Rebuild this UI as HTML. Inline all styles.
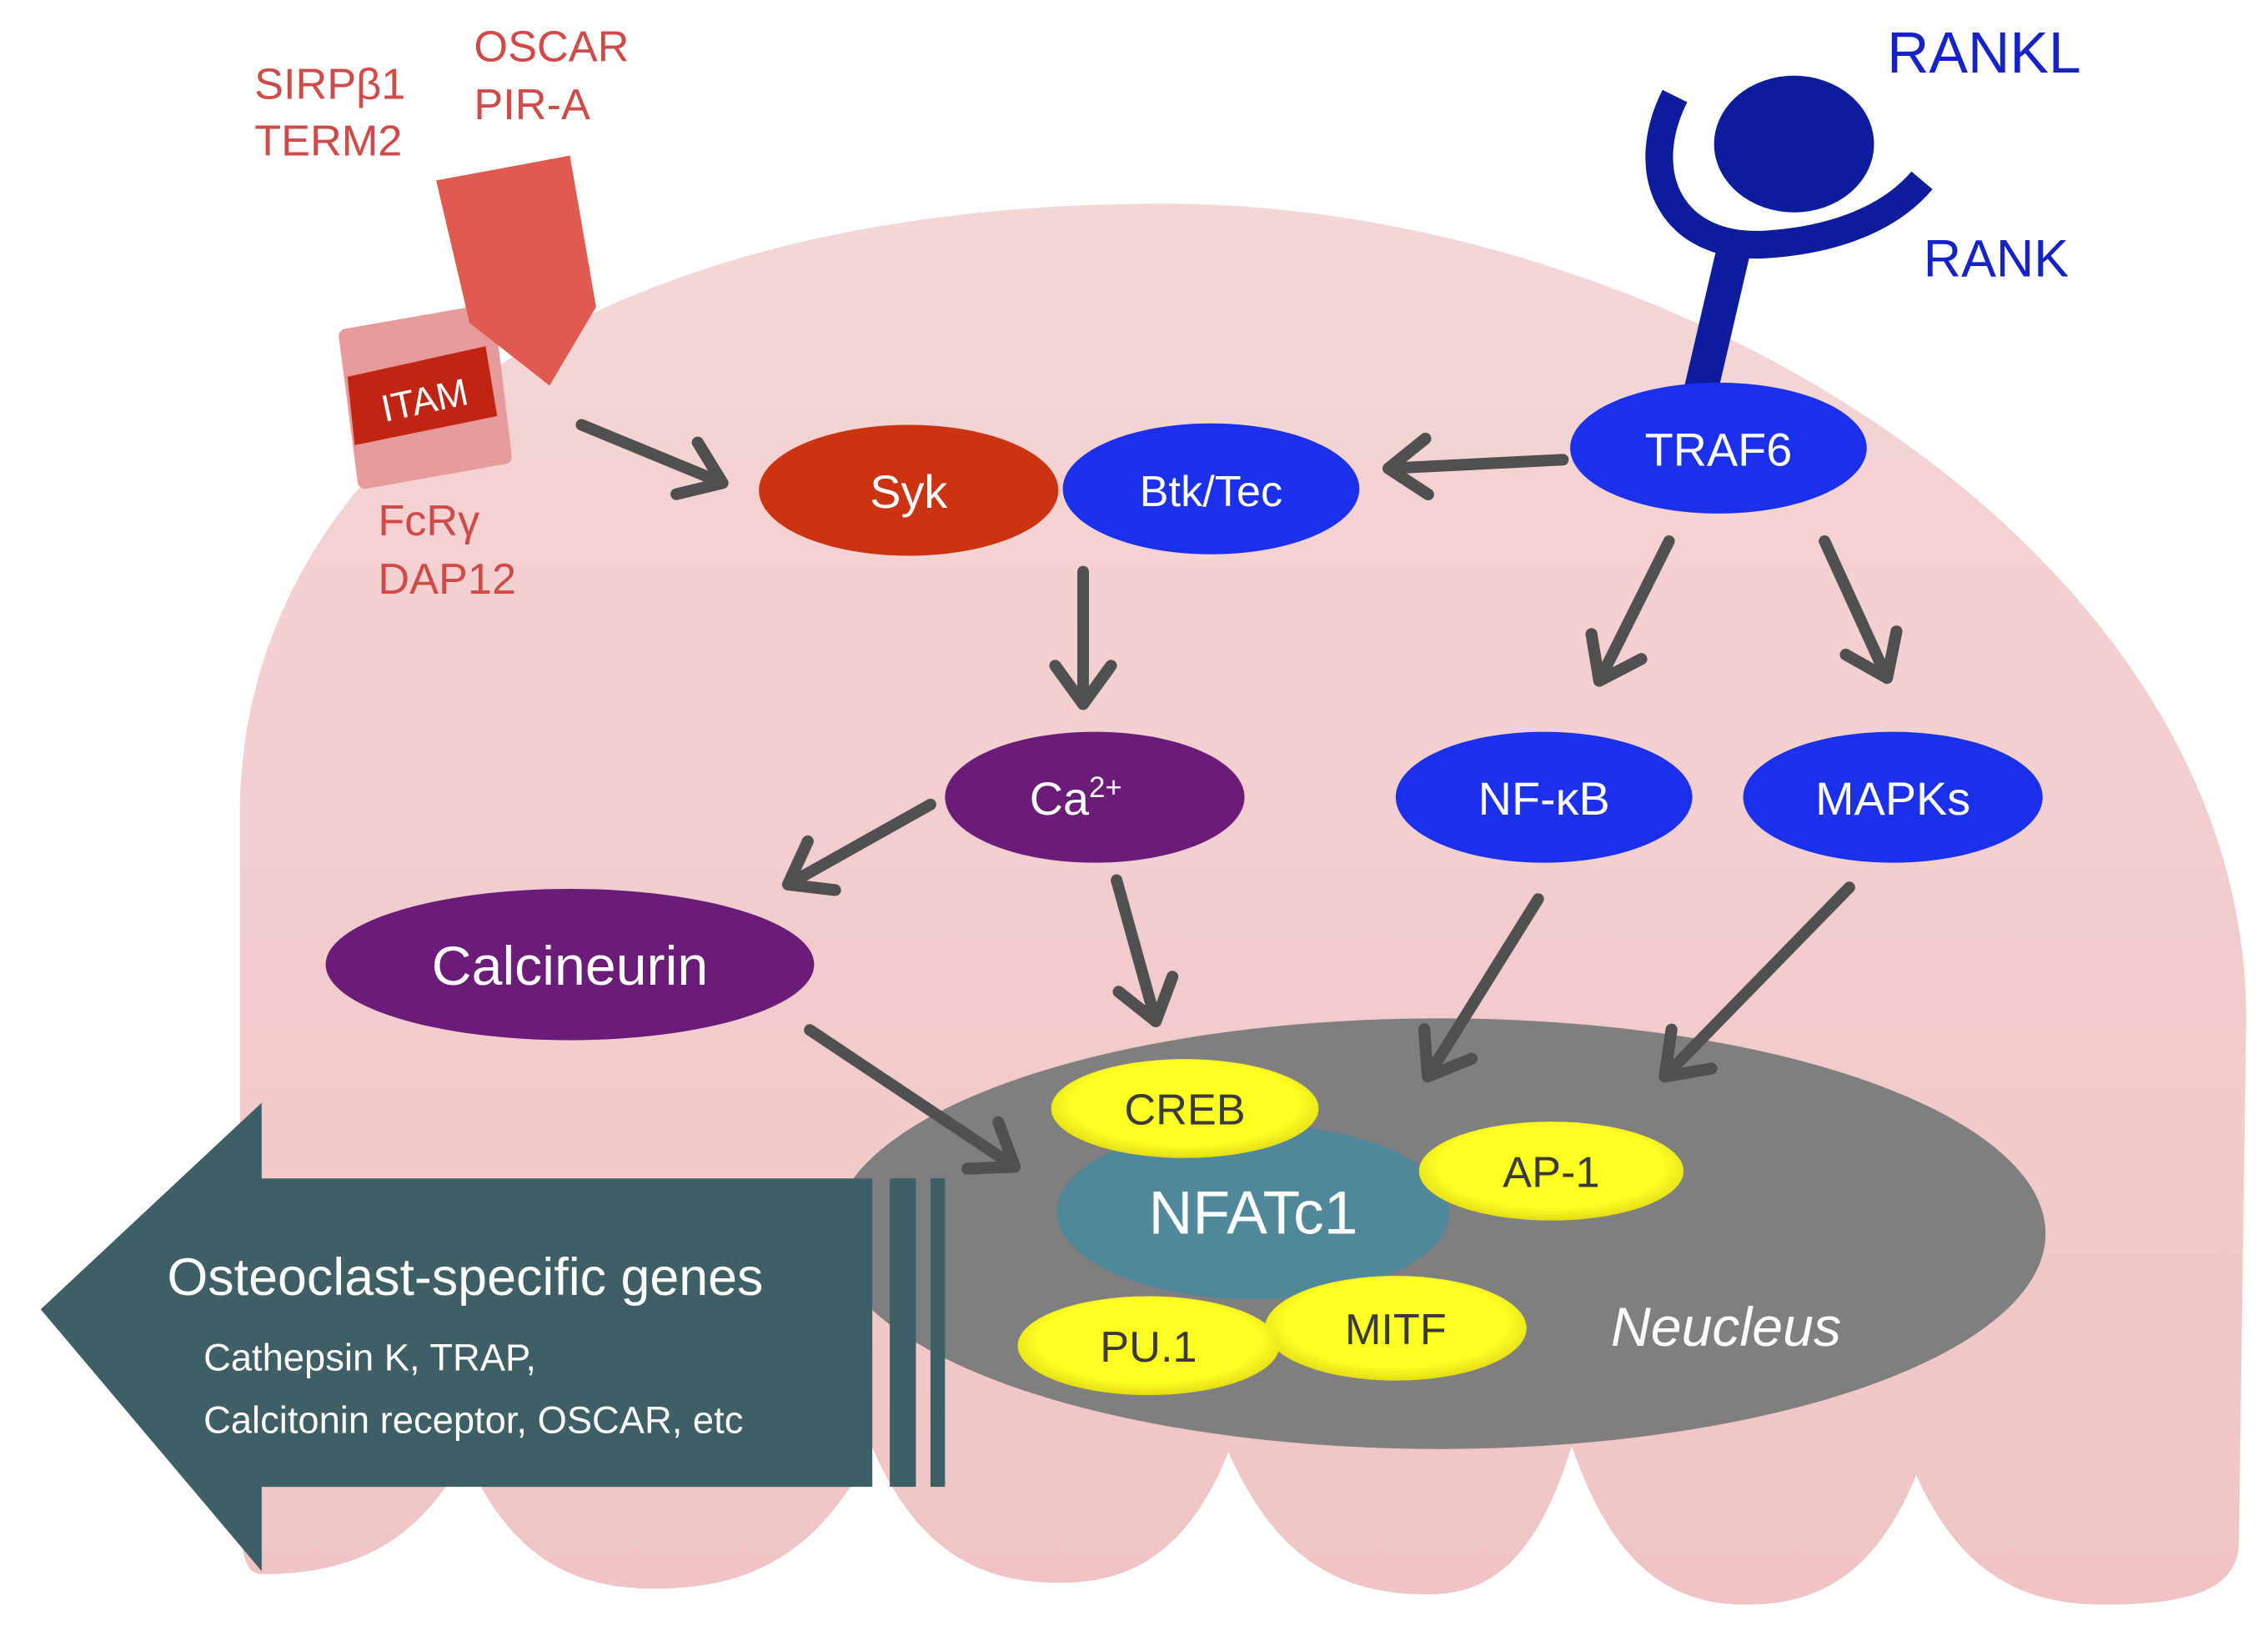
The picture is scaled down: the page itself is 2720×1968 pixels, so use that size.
<!DOCTYPE html>
<html><head><meta charset="utf-8"><style>
html,body{margin:0;padding:0;background:#fff;}
svg{display:block;}
text{font-family:"Liberation Sans",Arial,sans-serif;}
</style></head><body>
<svg width="2720" height="1968" viewBox="0 0 1560 1128" preserveAspectRatio="none" xmlns="http://www.w3.org/2000/svg">
<defs>
<linearGradient id="pk" x1="0" y1="0" x2="0" y2="1"><stop offset="0" stop-color="#f5d6d6"/><stop offset="1" stop-color="#f0c4c4"/></linearGradient>
<radialGradient id="yl" cx="0.5" cy="0.45" r="0.6"><stop offset="0.7" stop-color="#ffff22"/><stop offset="1" stop-color="#d8d010"/></radialGradient>
<marker id="ah" viewBox="0 0 20 20" refX="14" refY="10" markerWidth="6" markerHeight="6" orient="auto" markerUnits="strokeWidth">
<polyline points="3,2 14,10 3,18" fill="none" stroke="#505050" stroke-width="3.4" stroke-linecap="round" stroke-linejoin="round"/></marker>
</defs>
<!-- cell -->
<path d="M165,560 L165,1040 C165,1070 170,1082 180,1082
C236,1082 285,1066 320,1000
C352,1074 398,1092 450,1092
C510,1092 562,1073 600,995
C632,1069 677,1088 729,1088
C775,1088 816,1070 845,998
C879,1076 927,1096 982,1096
C1022,1096 1056,1076 1081,994
C1111,1081 1153,1103 1201,1103
C1248,1103 1289,1085 1318,1014
C1350,1085 1395,1103 1447,1103
C1500,1103 1540,1095 1540,1060 L1545,700
C1545,380 1150,140 800,140 C380,140 165,330 165,560 Z" fill="url(#pk)"/>
<!-- nucleus -->
<ellipse cx="990" cy="848" rx="417" ry="148" fill="#7f7f7f"/>
<!-- RANK -->
<path d="M1152,66 C1125,120 1150,172 1215,168 C1262,165 1300,150 1322,124" fill="none" stroke="#0d1c9c" stroke-width="19"/>
<ellipse cx="1234" cy="99" rx="55" ry="47" fill="#0d1c9c"/>
<polygon points="1182,165 1206,165 1182,268 1158,268" fill="#0d1c9c"/>
<text x="1298" y="50" font-size="40" fill="#1422c8">RANKL</text>
<text x="1323" y="190" font-size="36" fill="#1422c8">RANK</text>
<!-- red receptor -->
<text x="175" y="68" font-size="30" fill="#d04a4a">SIRPβ1</text>
<text x="175" y="107" font-size="30" fill="#d04a4a">TERM2</text>
<text x="326" y="42" font-size="30" fill="#d04a4a">OSCAR</text>
<text x="326" y="82" font-size="30" fill="#d04a4a">PIR-A</text>
<polygon points="238,231 335,214 347,314 251,331" fill="#e69a9a" stroke="#e69a9a" stroke-width="10" stroke-linejoin="round"/>
<polygon points="239,259 334,238 342,286 244,306" fill="#c02412"/>
<text x="292" y="284" font-size="26" fill="#fff" text-anchor="middle" transform="rotate(-12 292 275)">ITAM</text>
<polygon points="300,124 392,107 410,211 378,265 323,222" fill="#e05a50"/>
<text x="260" y="368" font-size="30" fill="#d04a4a">FcRγ</text>
<text x="260" y="408" font-size="30" fill="#d04a4a">DAP12</text>
<!-- arrows -->
<g stroke="#505050" stroke-width="8" stroke-linecap="round" fill="none" marker-end="url(#ah)">
<line x1="400" y1="292" x2="497" y2="332"/>
<line x1="1075" y1="316" x2="955" y2="322"/>
<line x1="745" y1="393" x2="745" y2="484"/>
<line x1="1148" y1="372" x2="1100" y2="468"/>
<line x1="1255" y1="372" x2="1298" y2="466"/>
<line x1="640" y1="553" x2="542" y2="608"/>
<line x1="768" y1="605" x2="795" y2="702"/>
<line x1="557" y1="708" x2="698" y2="802"/>
<line x1="1058" y1="618" x2="982" y2="740"/>
<line x1="1272" y1="610" x2="1145" y2="740"/>
</g>
<!-- nodes -->
<ellipse cx="625" cy="337" rx="103" ry="45" fill="#cc3310"/>
<text x="625" y="349" font-size="32" fill="#fff" text-anchor="middle">Syk</text>
<ellipse cx="833" cy="336" rx="102" ry="45" fill="#1a30ea"/>
<text x="833" y="348" font-size="30" fill="#fff" text-anchor="middle">Btk/Tec</text>
<ellipse cx="1182" cy="308" rx="102" ry="45" fill="#1a30ea"/>
<text x="1182" y="320" font-size="32" fill="#fff" text-anchor="middle">TRAF6</text>
<ellipse cx="753" cy="548" rx="103" ry="45" fill="#6a1c78"/>
<text x="740" y="560" font-size="32" fill="#fff" text-anchor="middle">Ca<tspan font-size="20" dy="-12">2+</tspan></text>
<ellipse cx="1062" cy="548" rx="102" ry="45" fill="#1a30ea"/>
<text x="1062" y="560" font-size="32" fill="#fff" text-anchor="middle">NF-κB</text>
<ellipse cx="1302" cy="548" rx="103" ry="45" fill="#1a30ea"/>
<text x="1302" y="560" font-size="32" fill="#fff" text-anchor="middle">MAPKs</text>
<ellipse cx="392" cy="663" rx="168" ry="52" fill="#6a1c78"/>
<text x="392" y="677" font-size="38" fill="#fff" text-anchor="middle">Calcineurin</text>
<ellipse cx="862" cy="833" rx="135" ry="60" fill="#4f8898"/>
<text x="862" y="848" font-size="42" fill="#fff" text-anchor="middle">NFATc1</text>
<ellipse cx="815" cy="762" rx="92" ry="34" fill="url(#yl)"/>
<text x="815" y="773" font-size="30" fill="#3a3a3a" text-anchor="middle">CREB</text>
<ellipse cx="1067" cy="805" rx="91" ry="34" fill="url(#yl)"/>
<text x="1067" y="816" font-size="30" fill="#3a3a3a" text-anchor="middle">AP-1</text>
<ellipse cx="960" cy="913" rx="90" ry="36" fill="url(#yl)"/>
<text x="960" y="924" font-size="30" fill="#3a3a3a" text-anchor="middle">MITF</text>
<ellipse cx="790" cy="925" rx="90" ry="34" fill="url(#yl)"/>
<text x="790" y="936" font-size="30" fill="#3a3a3a" text-anchor="middle">PU.1</text>
<text x="1108" y="925" font-size="38" fill="#fff" font-style="italic">Neucleus</text>
<!-- big arrow -->
<polygon points="28,900 180,758 180,810 600,810 600,1022 180,1022 180,1080" fill="#3e5f66"/>
<rect x="612" y="810" width="18" height="212" fill="#3e5f66"/>
<rect x="640" y="810" width="10" height="212" fill="#3e5f66"/>
<text x="115" y="890" font-size="36" fill="#fff">Osteoclast-specific genes</text>
<text x="140" y="942" font-size="26" fill="#fff">Cathepsin K, TRAP,</text>
<text x="140" y="985" font-size="26" fill="#fff">Calcitonin receptor, OSCAR, etc</text>
</svg>
</body></html>
